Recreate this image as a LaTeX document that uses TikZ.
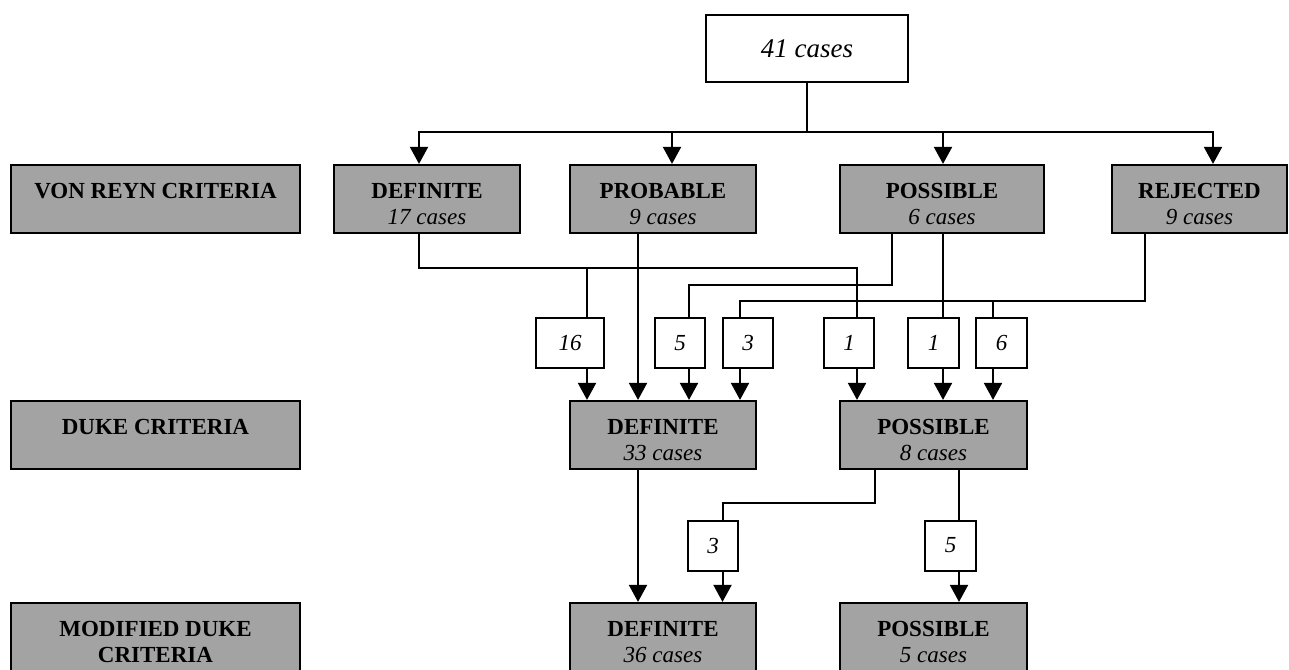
\documentclass[tikz,border=0pt]{standalone}
\usepackage{fontspec}
\setmainfont{Liberation Serif}
\usetikzlibrary{arrows.meta}
\definecolor{boxgray}{RGB}{163,163,163}
\newcommand\gtxt[2]{\rule{0pt}{33pt}#1\\\rule[-9pt]{0pt}{9pt}#2}
\begin{document}
\begin{tikzpicture}[x=1pt,y=-1pt,
 ln/.style={line width=2pt},
 arr/.style={ln,-{Triangle[length=17pt,width=18pt]}},
 gbox/.style={draw, line width=2.2pt, fill=boxgray, inner sep=0pt, minimum height=68pt, align=center, font=\fontsize{23}{26}\selectfont},
 nbox/.style={draw, line width=2pt, fill=white, minimum height=50pt, inner sep=0pt, font=\fontsize{23}{26}\selectfont\itshape},
 topbox/.style={draw, line width=2pt, fill=white, inner sep=0pt, minimum width=202pt, minimum height=67pt, font=\fontsize{27}{30}\selectfont\itshape}
]
\useasboundingbox (0,0) rectangle (1289,669);
\fill[white] (0,0) rectangle (1289,669);

\node[topbox] (top) at (807,48.5) {41 cases};

% row 1
\node[gbox, minimum width=289pt] (vr) at (155.5,199) {\gtxt{\textbf{VON REYN CRITERIA}}{}};
\node[gbox, minimum width=186pt] (d1) at (427,199) {\gtxt{\textbf{DEFINITE}}{\textit{17 cases}}};
\node[gbox, minimum width=186pt] (p1) at (663,199) {\gtxt{\textbf{PROBABLE}}{\textit{9 cases}}};
\node[gbox, minimum width=204pt] (s1) at (942,199) {\gtxt{\textbf{POSSIBLE}}{\textit{6 cases}}};
\node[gbox, minimum width=175pt] (r1) at (1199.5,199) {\gtxt{\textbf{REJECTED}}{\textit{9 cases}}};

% small boxes row 1
\node[nbox, minimum width=68pt] (n1) at (570,343) {16};
\node[nbox, minimum width=50pt] (n2) at (680,343) {5};
\node[nbox, minimum width=50pt] (n3) at (748,343) {3};
\node[nbox, minimum width=50pt] (n4) at (849,343) {1};
\node[nbox, minimum width=51pt] (n5) at (933.5,343) {1};
\node[nbox, minimum width=51pt] (n6) at (1001.5,343) {6};

% row 2
\node[gbox, minimum width=289pt] (dk) at (155.5,435) {\gtxt{\textbf{DUKE CRITERIA}}{}};
\node[gbox, minimum width=186pt] (d2) at (663,435) {\gtxt{\textbf{DEFINITE}}{\textit{33 cases}}};
\node[gbox, minimum width=187pt] (s2) at (933.5,435) {\gtxt{\textbf{POSSIBLE}}{\textit{8 cases}}};

% small boxes row 2
\node[nbox, minimum width=50pt] (n7) at (713,545.5) {3};
\node[nbox, minimum width=51pt] (n8) at (950.5,545.5) {5};

% row 3
\node[gbox, minimum width=289pt] (md) at (155.5,637) {\gtxt{\textbf{MODIFIED DUKE}}{\textbf{CRITERIA}}};
\node[gbox, minimum width=186pt] (d3) at (663,637) {\gtxt{\textbf{DEFINITE}}{\textit{36 cases}}};
\node[gbox, minimum width=187pt] (s3) at (933.5,637) {\gtxt{\textbf{POSSIBLE}}{\textit{5 cases}}};

% connectors from top
\coordinate (bus) at (807,132);
\draw[ln] (top.south) -- (bus);
\draw[arr] (bus) -| ([xshift=-8]d1.north);
\draw[arr] (bus) -| ([xshift=9]p1.north);
\draw[arr] (bus) -| ([xshift=1]s1.north);
\draw[arr] (bus) -| ([xshift=13.5]r1.north);

% row 1 to small boxes
\coordinate (j1) at (857,267.5);
\draw[ln] ([xshift=-8]d1.south) |- (j1) -- ([xshift=8]n4.north);
\draw[ln] ([xshift=17]n1.north) -- ([xshift=17]n1.north |- j1);
\draw[arr] ([xshift=-25]p1.south) -- ([xshift=-25]d2.north);
\coordinate (j2) at (689,284.5);
\draw[ln] ([xshift=-50]s1.south) |- (j2) -- ([xshift=9]n2.north);
\draw[ln] ([xshift=1]s1.south) -- ([xshift=9.5]n5.north);
\coordinate (j3) at (740,301);
\draw[ln] ([xshift=-54.5]r1.south) |- (j3) -- ([xshift=-8]n3.north);
\draw[ln] ([xshift=-8.5]n6.north) -- ([xshift=-8.5]n6.north |- j3);

% small boxes to row 2
\draw[arr] ([xshift=17]n1.south) -- ([xshift=-76]d2.north);
\draw[arr] ([xshift=9]n2.south) -- ([xshift=26]d2.north);
\draw[arr] ([xshift=-8]n3.south) -- ([xshift=77]d2.north);
\draw[arr] ([xshift=8]n4.south) -- ([xshift=-76.5]s2.north);
\draw[arr] ([xshift=9.5]n5.south) -- ([xshift=9.5]s2.north);
\draw[arr] ([xshift=-8.5]n6.south) -- ([xshift=59.5]s2.north);

% row 2 to row 3
\draw[arr] ([xshift=-25]d2.south) -- ([xshift=-25]d3.north);
\coordinate (j4) at (722.5,503);
\draw[ln] ([xshift=-58.5]s2.south) |- (j4) -- ([xshift=9.5]n7.north);
\draw[arr] ([xshift=9.5]n7.south) -- ([xshift=59.5]d3.north);
\draw[ln] ([xshift=25.5]s2.south) -- ([xshift=8.5]n8.north);
\draw[arr] ([xshift=8.5]n8.south) -- ([xshift=25.5]s3.north);
\end{tikzpicture}
\end{document}
